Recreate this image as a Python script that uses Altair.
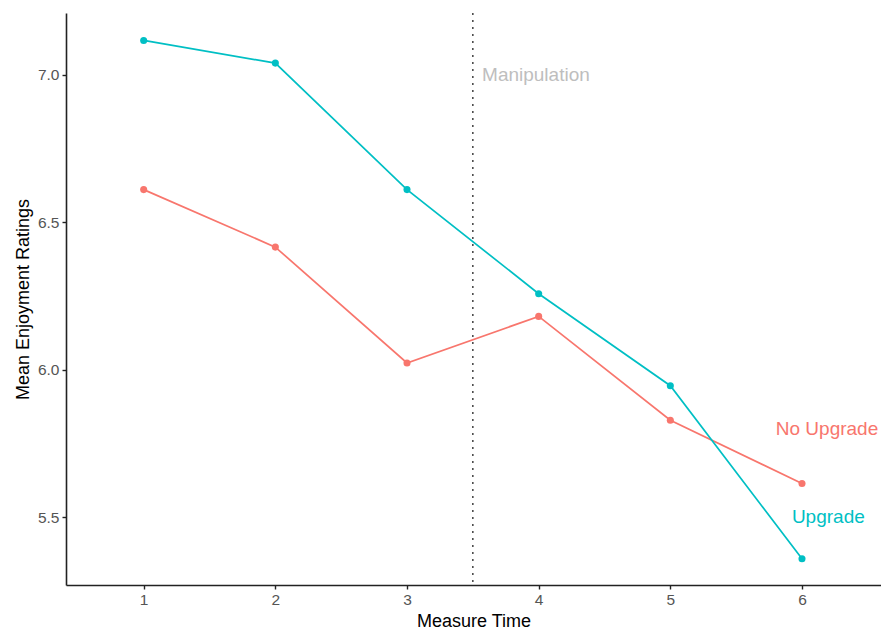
import altair as alt
import pandas as pd

times = [1, 2, 3, 4, 5, 6]
upgrade = [7.117, 7.040, 6.611, 6.258, 5.946, 5.359]
no_upgrade = [6.611, 6.416, 6.023, 6.181, 5.829, 5.614]
groups = ["No Upgrade", "Upgrade"]
colors = ["#F8766D", "#00BFC4"]

rows = []
for t, v in zip(times, no_upgrade):
    rows.append({"time": t, "rating": v, "group": "No Upgrade"})
for t, v in zip(times, upgrade):
    rows.append({"time": t, "rating": v, "group": "Upgrade"})
df = pd.DataFrame(rows)

label_df = pd.DataFrame({
    "time": [6.19, 6.2],
    "rating": [5.80, 5.50],
    "group": groups,
})
manip_df = pd.DataFrame({"time": [3.57], "rating": [7.0], "text": ["Manipulation"]})
rule_df = pd.DataFrame({"time": [3.5]})

xscale = alt.Scale(domain=[0.41, 6.6], nice=False, zero=False)
yscale = alt.Scale(domain=[5.27, 7.21], nice=False, zero=False)
color = alt.Color("group:N", scale=alt.Scale(domain=groups, range=colors), legend=None)

xaxis = alt.Axis(values=times, format="d", title="Measure Time", grid=False)
yaxis = alt.Axis(values=[5.5, 6.0, 6.5, 7.0], format=".1f", title="Mean Enjoyment Ratings", grid=False)

base = alt.Chart(df)
lines = base.mark_line(strokeWidth=1.7).encode(
    x=alt.X("time:Q", scale=xscale, axis=xaxis),
    y=alt.Y("rating:Q", scale=yscale, axis=yaxis),
    color=color,
)
points = base.mark_circle(size=50, opacity=1).encode(
    x="time:Q", y="rating:Q", color=color
)
rule = alt.Chart(rule_df).mark_rule(color="#333333", strokeDash=[2, 5], strokeWidth=1.4).encode(
    x="time:Q"
)
labels = alt.Chart(label_df).mark_text(fontSize=19, font="Liberation Sans", align="center").encode(
    x="time:Q", y="rating:Q", text="group:N", color=color
)
manip = alt.Chart(manip_df).mark_text(fontSize=19, font="Liberation Sans", align="left", color="#BEBEBE").encode(
    x="time:Q", y="rating:Q", text="text:N"
)

chart = alt.layer(rule, lines, points, labels, manip).properties(
    width=815, height=572,
    padding={"left": 6, "top": 4, "right": 0, "bottom": 0},
).configure_view(stroke=None).configure_axis(
    domainColor="#222222", domainWidth=1.6, tickColor="#222222", tickSize=4, tickWidth=1.4,
    labelColor="#555555", labelFontSize=15.5, labelFont="Liberation Sans",
    titleColor="#000000", titleFontSize=18, titleFont="Liberation Sans", titleFontWeight="normal",
    labelPadding=3, titlePadding=5,
)

chart.save("out.html", embed_options={"renderer": "svg", "actions": False})
